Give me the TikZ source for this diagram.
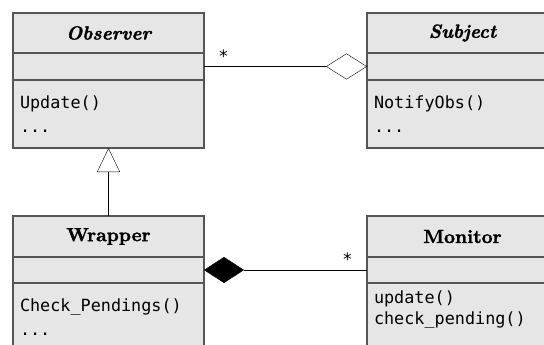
\documentclass[tikz,border=0pt]{standalone}
\usepackage{fontspec}
\setmonofont{DejaVu Sans Mono}
\newfontfamily\headfont{lmroman10-bold}[Extension=.otf,ItalicFont=lmroman10-bolditalic,FakeBold=1.5]
\usetikzlibrary{arrows.meta,positioning}
\definecolor{classfill}{HTML}{E6E6E6}
\definecolor{classline}{HTML}{555555}

\begin{document}
\begin{tikzpicture}[x=1pt,y=-1pt,
  classpart/.style={draw=classline,fill=classfill,line width=1.2pt,minimum width=191pt,
    inner sep=0pt,outer sep=0pt,anchor=north},
  classhead/.style={classpart,minimum height=40pt,font=\fontsize{19}{24}\selectfont\headfont},
  classattr/.style={classpart,minimum height=27pt},
  classops/.style={classpart,minimum height=68pt,inner xsep=7pt,text width=177pt,align=left,
    font=\fontsize{16.8}{24}\selectfont\ttfamily},
  mult/.style={font=\fontsize{17}{17}\selectfont\ttfamily,inner sep=1pt}]
\useasboundingbox (0,0) rectangle (544,345);
\clip (0,0) rectangle (544,345);
% upper row
\node[classhead] (obsHead) at (108.5,13) {\itshape Observer};
\node[classattr,below=0pt of obsHead] (obsAttr) {};
\node[classops,below=0pt of obsAttr] (obsOps) {Update()\\...};
\node[classhead] (subjHead) at (462.5,13) {\itshape Subject};
\node[classattr,below=0pt of subjHead] (subjAttr) {};
\node[classops,below=0pt of subjAttr] (subjOps) {NotifyObs()\\...};
% lower row
\node[classhead,minimum height=41pt] (wrapHead) at (108.5,216) {Wrapper};
\node[classattr,minimum height=26pt,below=0pt of wrapHead] (wrapAttr) {};
\node[classops,below=0pt of wrapAttr] (wrapOps) {Check\_Pendings()\\...};
\node[classhead,minimum height=41pt] (monHead) at (462.5,216) {Monitor};
\node[classattr,minimum height=26pt,below=0pt of monHead] (monAttr) {};
\node[classops,minimum height=74pt,font=\fontsize{16.8}{21}\selectfont\ttfamily,
  below=0pt of monAttr] (monOps) {update()\\check\_pending()\\[3pt]...};
% relations
\draw[-{Triangle[open,length=24pt,width=23pt]}] (wrapHead.north) -- (obsOps.south);
\draw[-{Diamond[open,length=41pt,width=26pt]}] (obsAttr.east) --
  node[mult,pos=0.12,above=3pt] (obsMult) {*} (subjAttr.west);
\draw[{Diamond[length=40pt,width=26pt]}-] (wrapAttr.east) --
  node[mult,pos=0.88,above=3pt] (monMult) {*} (monAttr.west);
\end{tikzpicture}
\end{document}
